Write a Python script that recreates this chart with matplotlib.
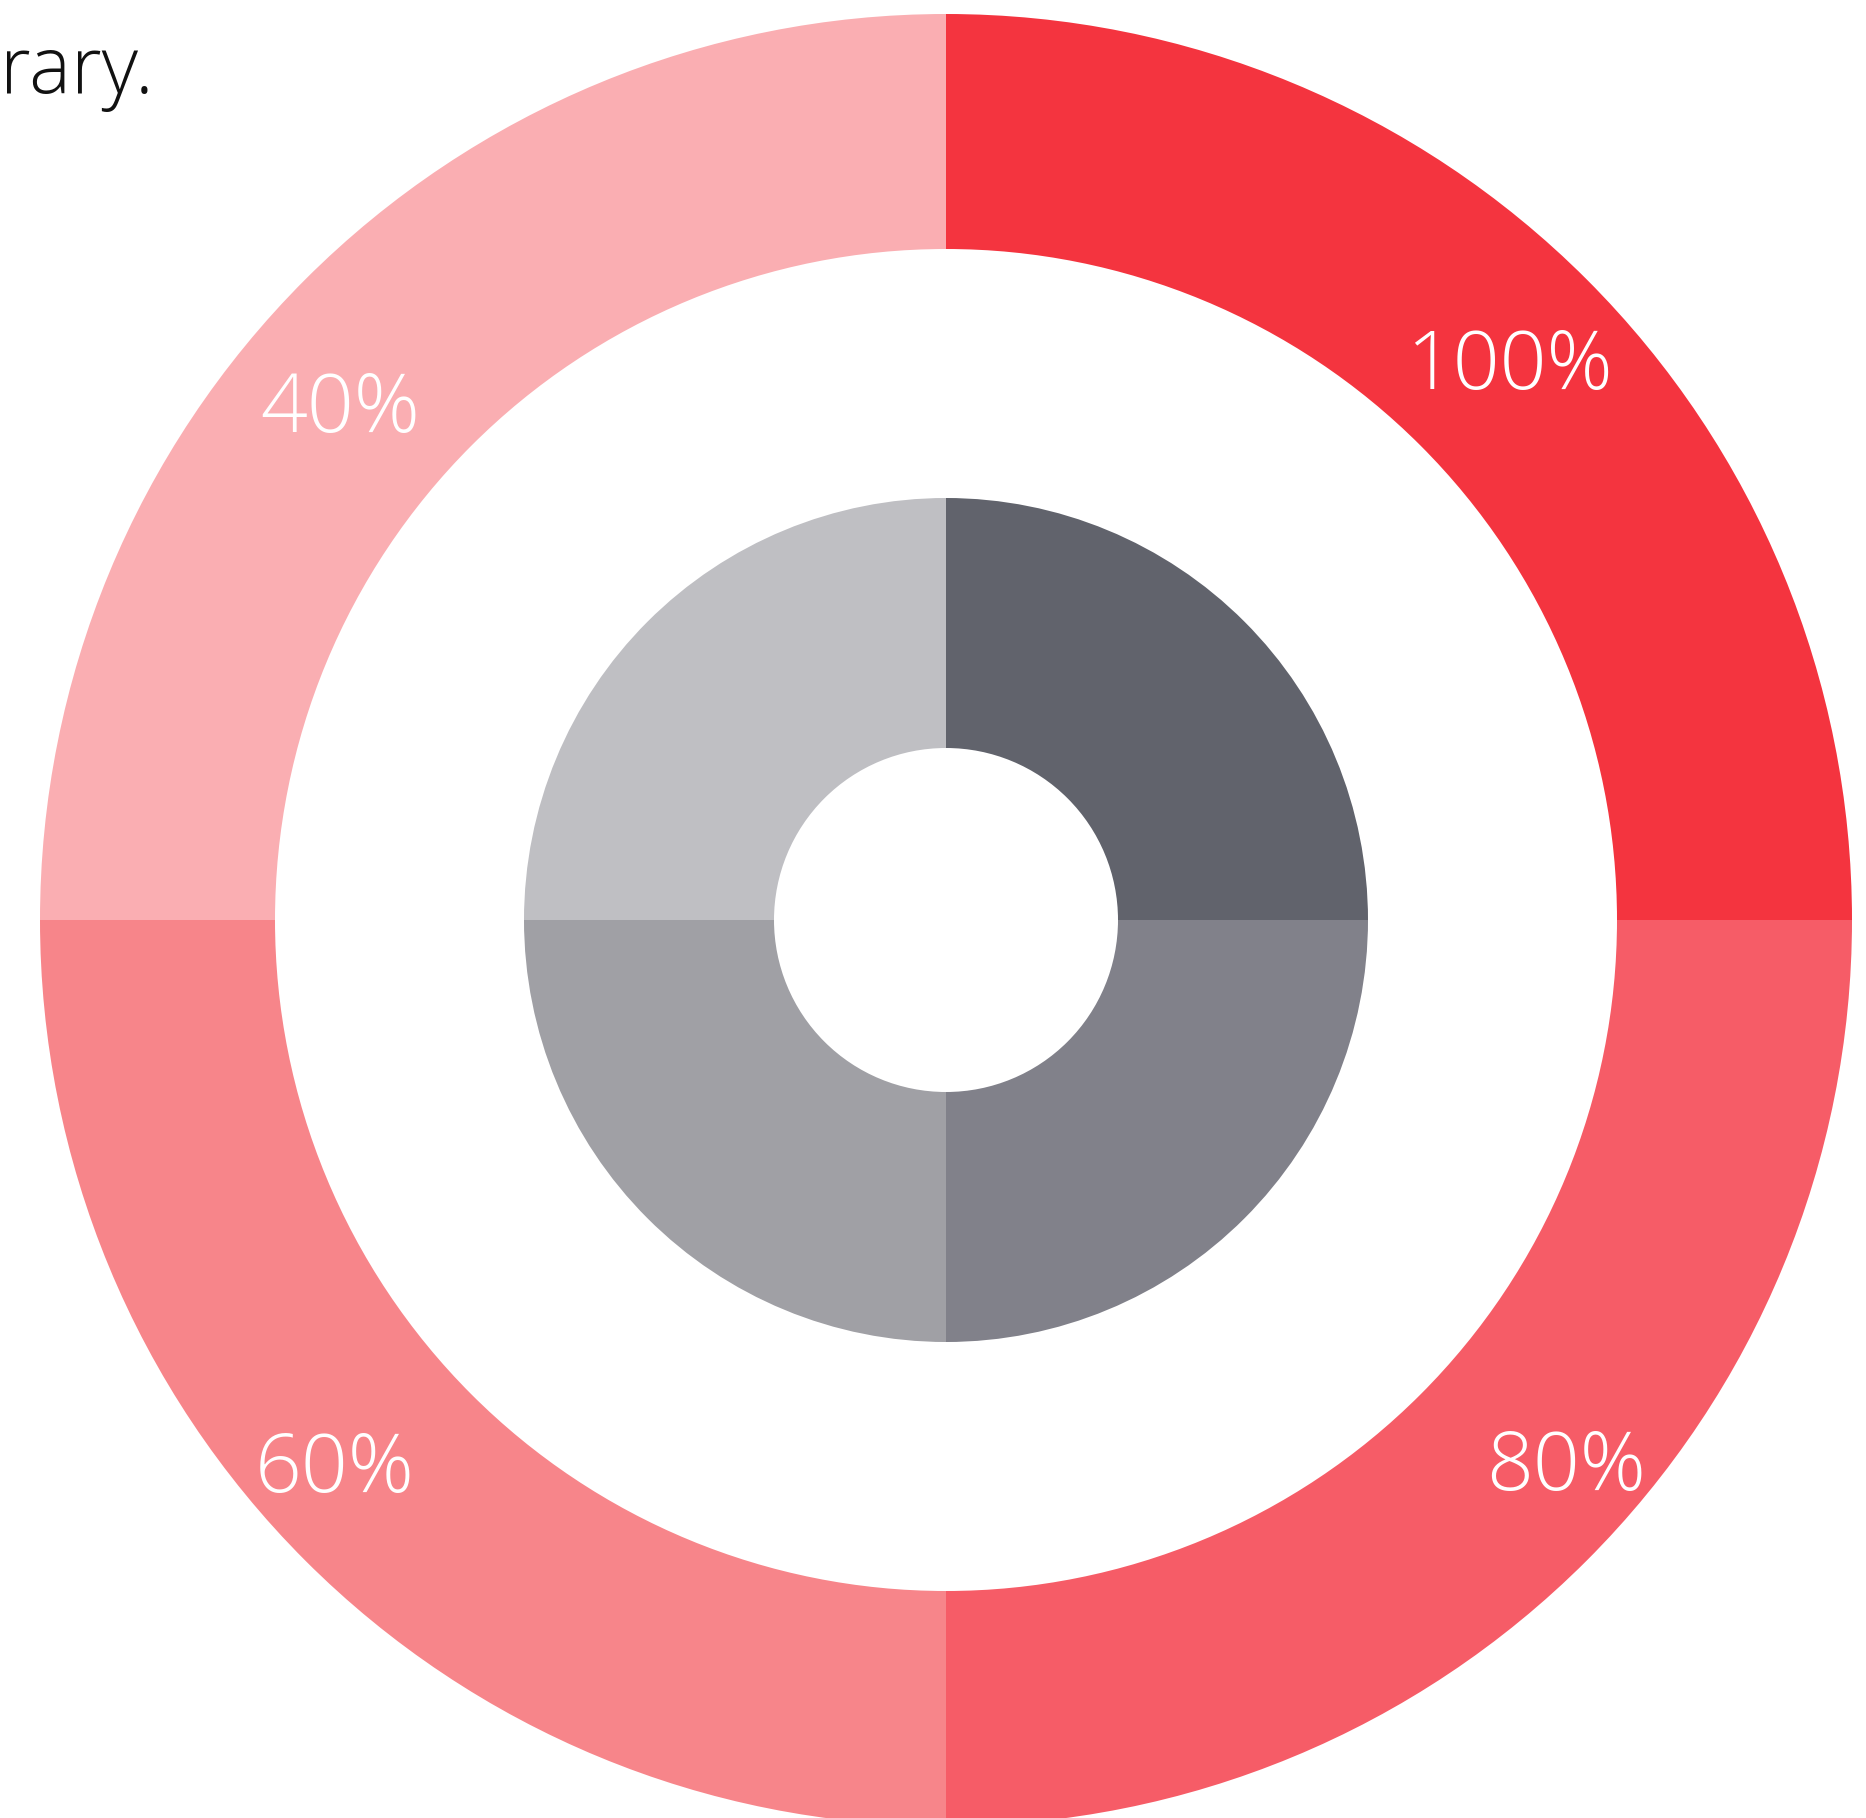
import matplotlib
matplotlib.use("Agg")
import matplotlib.pyplot as plt
import numpy as np

plt.rcParams['font.family'] = ['Open Sans', 'DejaVu Sans']

# outer ring (clockwise from top)
outer_labels = ['100%', '80%', '60%', '40%']
outer_values = [25, 25, 25, 25]
outer_colors = ['#F4343F', '#F65C67', '#F7858A', '#FAAEB2']
# where each label sits: angle (deg) and distance from centre (px)
label_angles = [44.9, -41.0, -138.5, 139.4]
label_radii = [796, 822, 816, 798]

# inner ring
inner_values = [25, 25, 25, 25]
inner_colors = ['#61636C', '#81818A', '#A0A0A5', '#BFBFC3']

W, H = 1866, 1818
fig = plt.figure(figsize=(W / 100, H / 100), dpi=100)
ax = fig.add_axes([0, 0, 1, 1])

cx, cy = 946, H - 920
r_out, r_out_in = 906, 671
r_in, r_in_in = 422, 172

ax.pie(outer_values, colors=outer_colors, startangle=90, counterclock=False,
       radius=r_out, center=(cx, cy),
       wedgeprops=dict(width=r_out - r_out_in, linewidth=0))
ax.pie(inner_values, colors=inner_colors, startangle=90, counterclock=False,
       radius=r_in, center=(cx, cy),
       wedgeprops=dict(width=r_in - r_in_in, linewidth=0))

for lab, a, r in zip(outer_labels, label_angles, label_radii):
    t = np.deg2rad(a)
    ax.text(cx + r * np.cos(t), cy + r * np.sin(t), lab,
            color='white', fontsize=59, fontweight='light',
            ha='center', va='center_baseline')

# tail end of a sentence from the page, cut by the crop
ax.text(0, H - 93, 'rary.', color='#111111', fontsize=57,
        fontweight='light', ha='left', va='baseline')

ax.set_xlim(0, W)
ax.set_ylim(0, H)
ax.set_aspect('equal')
ax.axis('off')

fig.savefig('out.png', dpi=100, facecolor='white')
